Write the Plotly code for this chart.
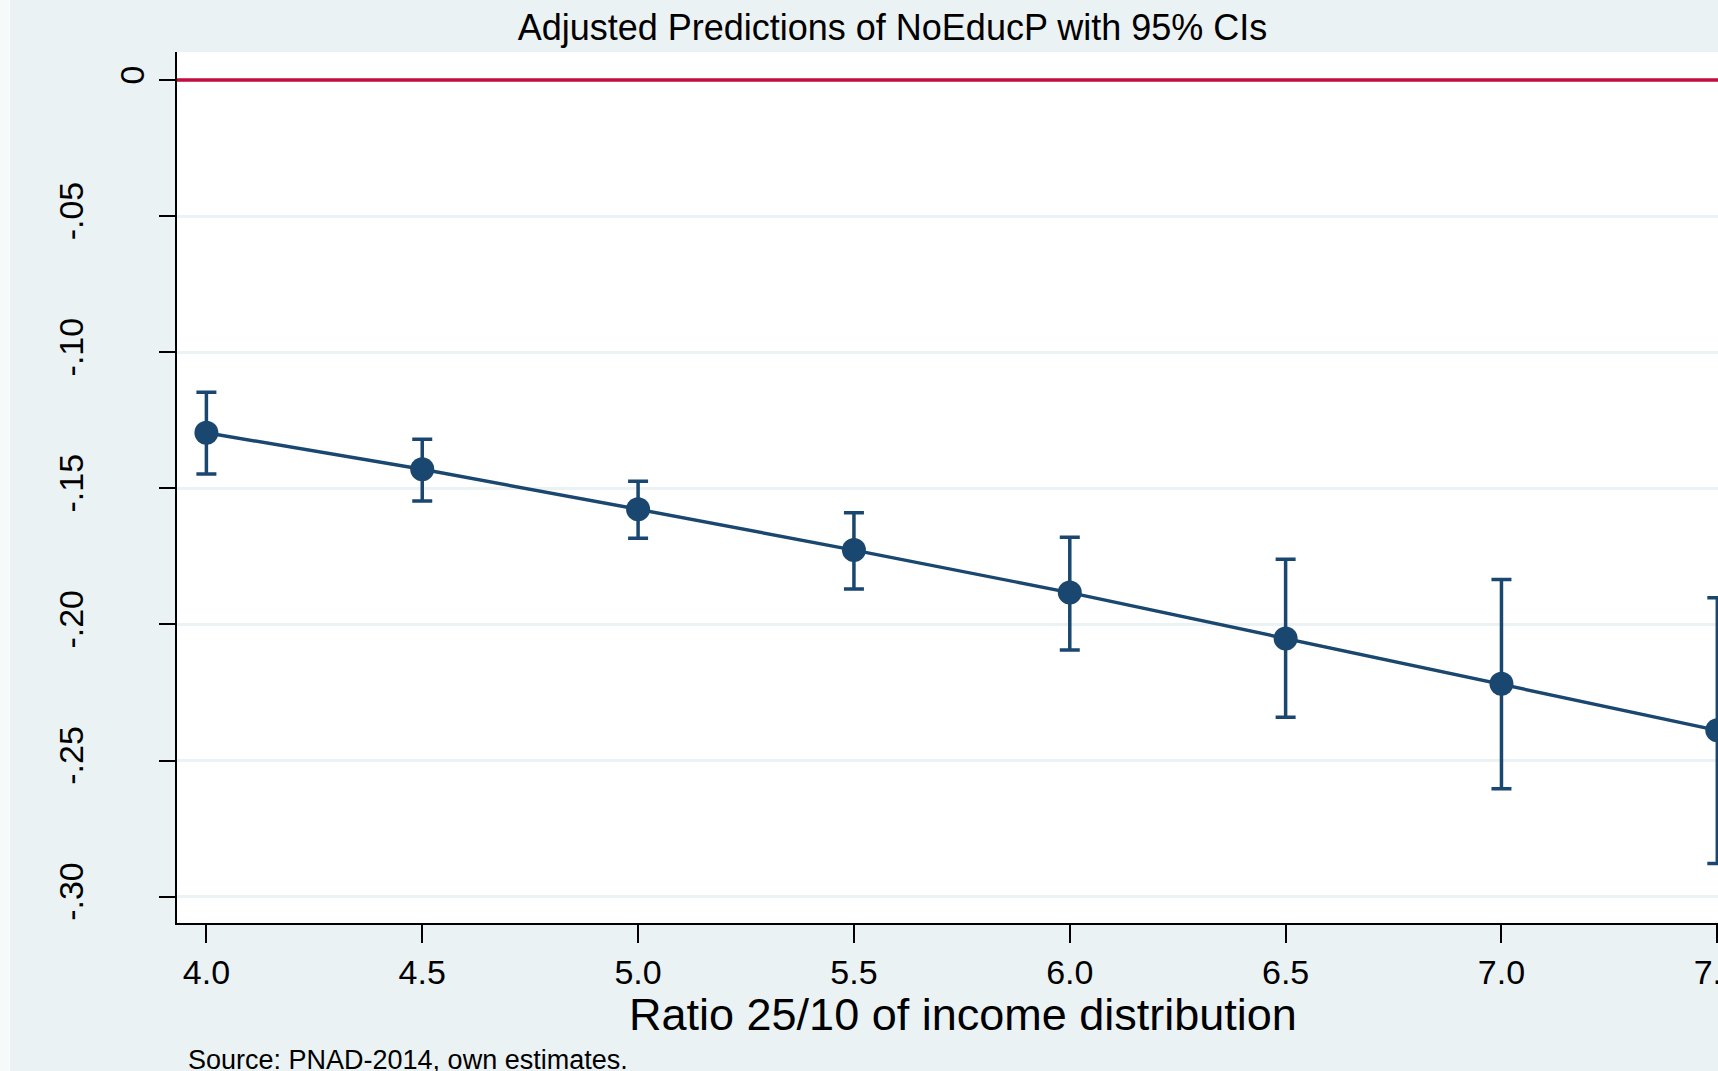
import plotly.graph_objects as go

# ---- data ----
ratio = [4.0, 4.5, 5.0, 5.5, 6.0, 6.5, 7.0, 7.5]
pred = [-0.1296, -0.1430, -0.1577, -0.1727, -0.1883, -0.2052, -0.2218, -0.2389]
ci_upper = [-0.1147, -0.1320, -0.1474, -0.1590, -0.1680, -0.1761, -0.1835, -0.1902]
ci_lower = [-0.1447, -0.1547, -0.1683, -0.1870, -0.2094, -0.2341, -0.2604, -0.2878]

x_tickvals = [4.0, 4.5, 5.0, 5.5, 6.0, 6.5, 7.0, 7.5]
x_ticktext = ["4.0", "4.5", "5.0", "5.5", "6.0", "6.5", "7.0", "7.5"]
y_tickvals = [0, -0.05, -0.10, -0.15, -0.20, -0.25, -0.30]
y_ticktext = ["0", "-.05", "-.10", "-.15", "-.20", "-.25", "-.30"]

title_text = "Adjusted Predictions of NoEducP with 95% CIs"
xtitle_text = "Ratio 25/10 of income distribution"
note_text = "Source: PNAD-2014, own estimates."

W, H = 1718, 1071
NAVY = "#1A476F"
BG = "#EAF2F3"
RED = "#C40D3E"
FONT = "Liberation Sans, Arial, sans-serif"

err_plus = [u - p for u, p in zip(ci_upper, pred)]
err_minus = [p - l for p, l in zip(pred, ci_lower)]

fig = go.Figure()

fig.add_trace(go.Scatter(
    x=ratio, y=pred, mode="lines+markers",
    line=dict(color=NAVY, width=3.4),
    marker=dict(color=NAVY, size=24, line=dict(width=0)),
    error_y=dict(type="data", symmetric=False, array=err_plus, arrayminus=err_minus,
                 color=NAVY, thickness=3.5, width=10),
    cliponaxis=False, showlegend=False,
))

# label-only axis for the "0" tick (placed closer to the axis, as in the reference)
fig.add_trace(go.Scatter(x=[ratio[0]], y=[pred[0]], yaxis="y2", mode="markers",
                         marker=dict(opacity=0), showlegend=False, hoverinfo="skip"))

L, R, T, B = 177, 0, 52, 148
yr = [-0.3097, 0.0103]

fig.update_layout(
    width=W, height=H,
    paper_bgcolor=BG, plot_bgcolor="white",
    margin=dict(l=L, r=R, t=T, b=B, autoexpand=False),
    font=dict(family=FONT, color="black"),
    title=dict(text=title_text, x=892.5 / W, xref="container", xanchor="center",
               y=1 - 27 / H, yref="container", yanchor="middle",
               font=dict(size=36, family=FONT, color="black")),
    xaxis=dict(range=[3.9319, 7.5016], tickvals=x_tickvals, ticktext=x_ticktext,
               automargin=False,
               showgrid=False, zeroline=False, showline=True, linecolor="black", linewidth=2,
               ticks="outside", ticklen=18, tickwidth=2, tickcolor="black",
               ticklabeloverflow="allow",
               tickfont=dict(size=34, family=FONT, color="black")),
    yaxis=dict(range=yr, tickvals=y_tickvals, ticktext=[""] + y_ticktext[1:],
               automargin=False,
               showgrid=True, gridcolor=BG, gridwidth=3, zeroline=False,
               showline=True, linecolor="black", linewidth=2,
               ticks="outside", ticklen=16, tickwidth=2, tickcolor="black",
               tickangle=-90, ticklabelstandoff=62,
               tickfont=dict(size=34, family=FONT, color="black")),
    yaxis2=dict(range=yr, overlaying="y", side="left", anchor="x",
                automargin=False,
                tickvals=y_tickvals[:1], ticktext=y_ticktext[:1],
                showgrid=False, zeroline=False, showline=False, ticks="outside",
                ticklen=16, tickcolor="rgba(0,0,0,0)", tickangle=-90, ticklabelstandoff=2,
                tickfont=dict(size=34, family=FONT, color="black")),
    shapes=[
        dict(type="line", xref="paper", x0=0, x1=1, yref="y", y0=0, y1=0,
             line=dict(color=RED, width=3.5), layer="above"),
        dict(type="rect", xref="paper", yref="paper", x0=-L / (W - L - R), x1=(10 - L) / (W - L - R),
             y0=-B / (H - T - B), y1=1 + T / (H - T - B), fillcolor="#F7FAFA",
             line=dict(width=0), layer="below"),
    ],
    annotations=[
        dict(text=xtitle_text, xref="paper", yref="paper",
             x=(962.5 - L) / (W - L - R), y=(H - B - 1014) / (H - T - B),
             xanchor="center", yanchor="middle", showarrow=False,
             font=dict(size=45, family=FONT, color="black")),
        dict(text=note_text, xref="paper", yref="paper",
             x=(186 - L) / (W - L - R), y=(H - B - 1060) / (H - T - B),
             xanchor="left", yanchor="middle", showarrow=False,
             font=dict(size=27, family=FONT, color="black")),
    ],
)

fig.write_html("out.html", config={"displayModeBar": False},
               post_script="document.body.style.margin='0';document.body.style.overflow='hidden';")
